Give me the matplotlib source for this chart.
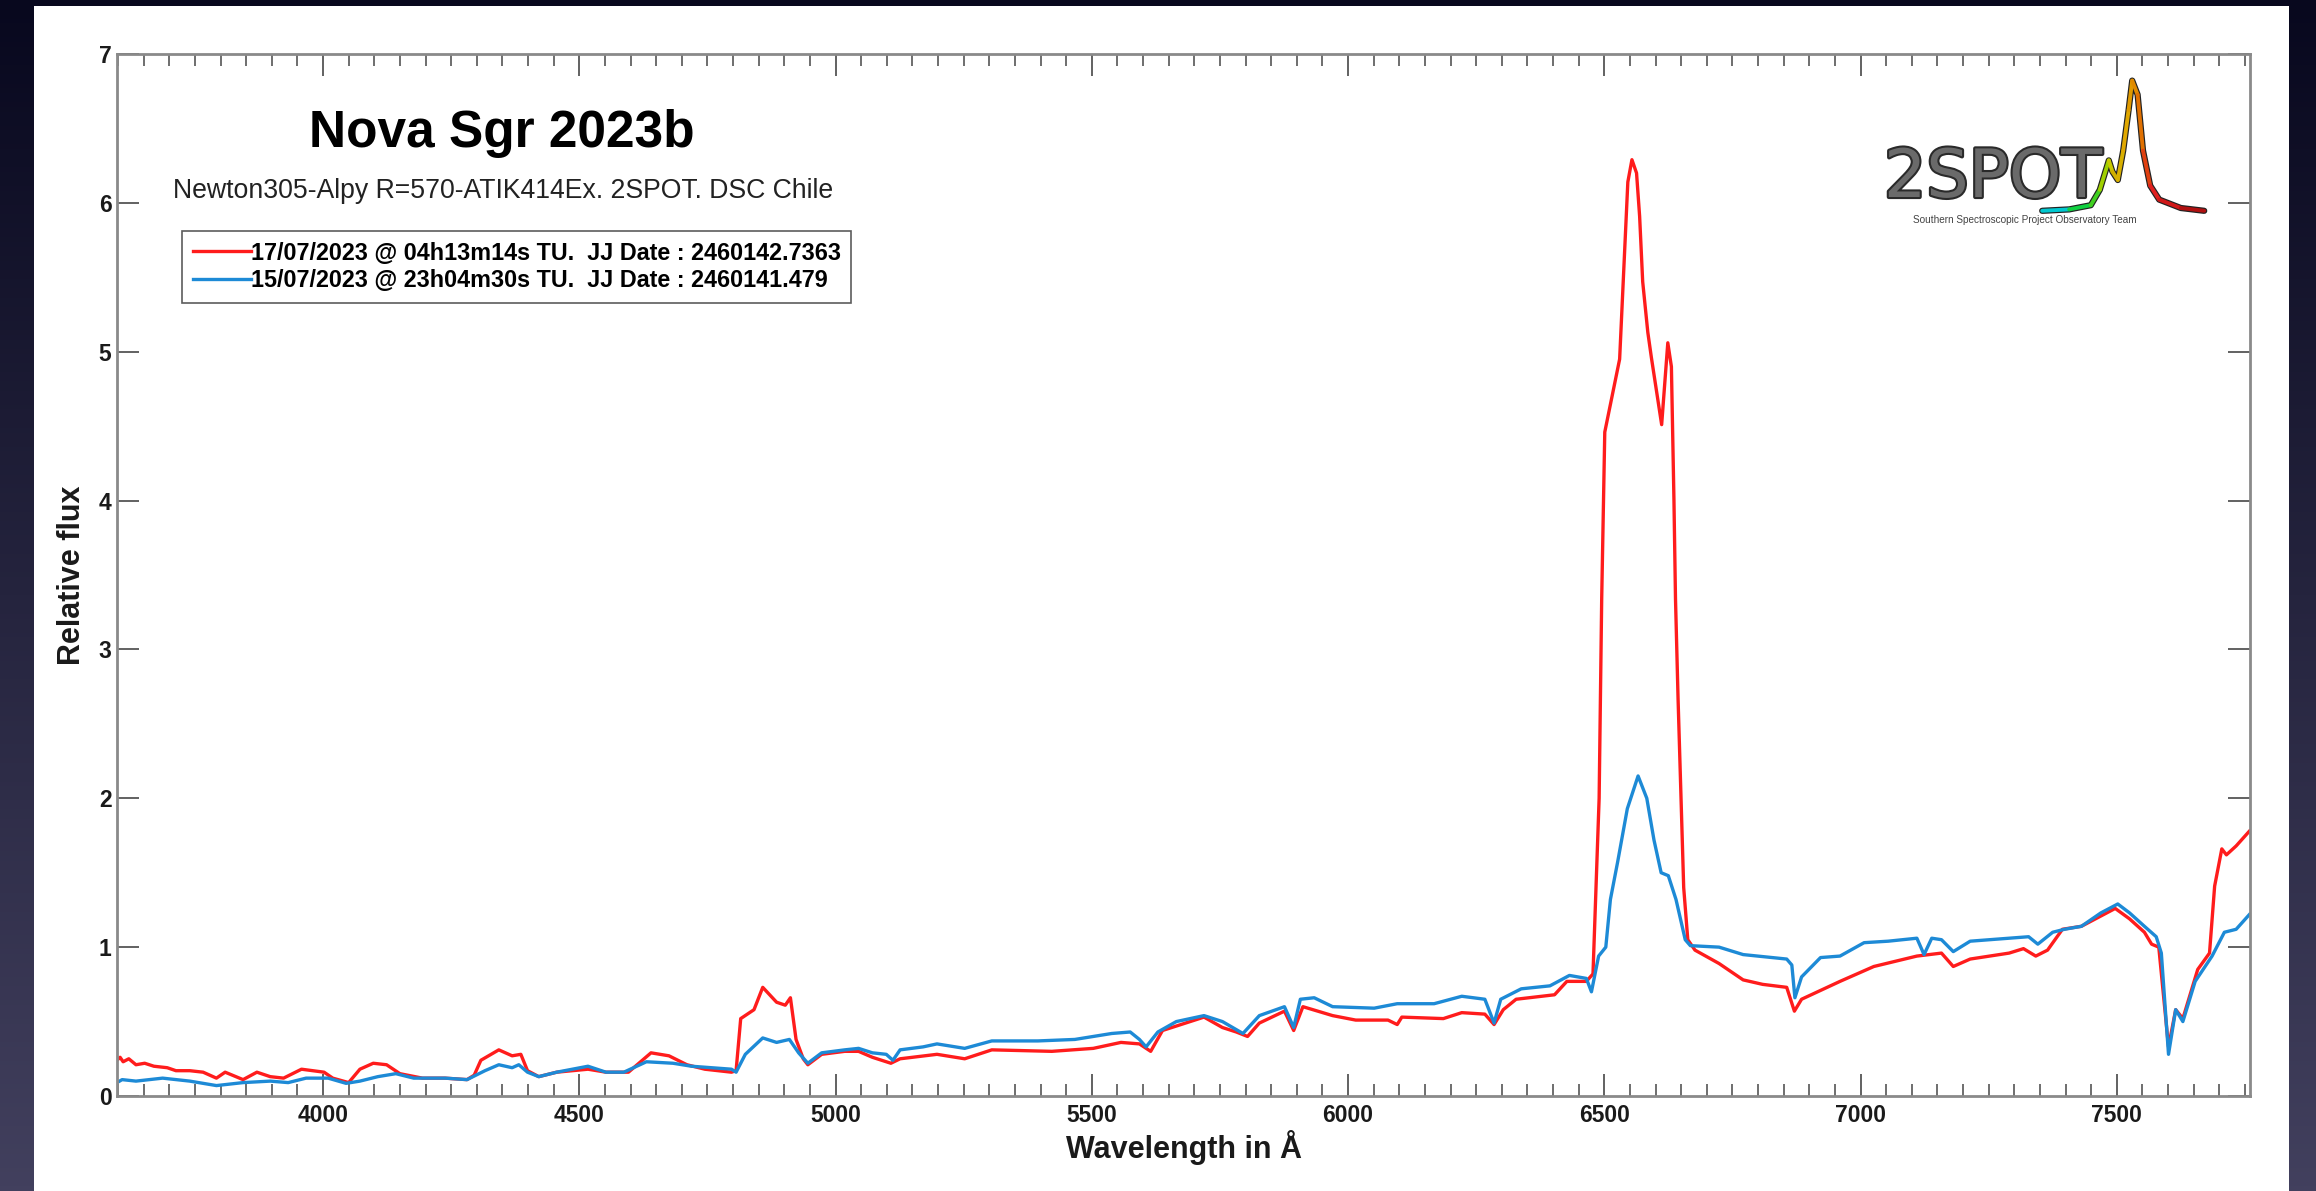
import numpy as np
import matplotlib
matplotlib.use("Agg")
import matplotlib.pyplot as plt
from matplotlib.patches import Rectangle
from matplotlib.collections import LineCollection
from matplotlib.ticker import MultipleLocator
import matplotlib.patheffects as pe

plt.rcParams["font.family"] = ["Liberation Sans", "DejaVu Sans"]
plt.rcParams["font.weight"] = "bold"
plt.rcParams["axes.labelweight"] = "bold"

# ---- data ----
wl_red = [3598, 3604, 3610, 3621, 3635, 3652, 3670, 3696, 3713, 3740, 3766, 3792, 3809,
          3844, 3871, 3897, 3923, 3958, 4002, 4019, 4050, 4072, 4098, 4124, 4150, 4194,
          4238, 4281, 4295, 4308, 4343, 4369, 4386, 4399, 4421, 4456, 4517, 4552, 4596,
          4640, 4675, 4710, 4745, 4797, 4806, 4815, 4841, 4858, 4885, 4902, 4912, 4923,
          4937, 4946, 4973, 5018, 5045, 5072, 5108, 5126, 5198, 5252, 5305, 5422, 5503,
          5557, 5593, 5615, 5638, 5692, 5719, 5755, 5782, 5804, 5827, 5876, 5894, 5912,
          5970, 6015, 6078, 6096, 6105, 6186, 6222, 6267, 6285, 6303, 6328, 6403, 6427,
          6465, 6478, 6490, 6495, 6501, 6511, 6530, 6540, 6546, 6554, 6563, 6569, 6575,
          6585, 6592, 6612, 6624, 6631, 6636, 6639, 6644, 6655, 6663, 6677, 6724, 6771,
          6809, 6856, 6871, 6885, 6960, 7026, 7110, 7158, 7181, 7214, 7290, 7318, 7342,
          7365, 7394, 7431, 7497, 7525, 7554, 7568, 7582, 7601, 7615, 7629, 7658, 7681,
          7691, 7705, 7714, 7733, 7759]
flux_red = [0.24, 0.26, 0.23, 0.25, 0.21, 0.22, 0.20, 0.19, 0.17, 0.17, 0.16, 0.12, 0.16,
            0.11, 0.16, 0.13, 0.12, 0.18, 0.16, 0.12, 0.09, 0.18, 0.22, 0.21, 0.15, 0.12,
            0.12, 0.11, 0.14, 0.24, 0.31, 0.27, 0.28, 0.17, 0.13, 0.16, 0.18, 0.16, 0.16,
            0.29, 0.27, 0.21, 0.18, 0.16, 0.17, 0.52, 0.58, 0.73, 0.63, 0.61, 0.66, 0.38,
            0.25, 0.21, 0.28, 0.30, 0.30, 0.26, 0.22, 0.25, 0.28, 0.25, 0.31, 0.30, 0.32,
            0.36, 0.35, 0.30, 0.44, 0.50, 0.53, 0.46, 0.43, 0.40, 0.49, 0.57, 0.44, 0.60,
            0.54, 0.51, 0.51, 0.48, 0.53, 0.52, 0.56, 0.55, 0.48, 0.58, 0.65, 0.68, 0.77,
            0.77, 0.82, 2.00, 3.34, 4.46, 4.63, 4.95, 5.69, 6.14, 6.29, 6.20, 5.91, 5.47,
            5.13, 4.96, 4.51, 5.06, 4.90, 4.00, 3.34, 2.67, 1.40, 1.05, 0.98, 0.89, 0.78,
            0.75, 0.73, 0.57, 0.65, 0.77, 0.87, 0.94, 0.96, 0.87, 0.92, 0.96, 0.99, 0.94,
            0.98, 1.12, 1.14, 1.26, 1.19, 1.10, 1.02, 1.00, 0.33, 0.58, 0.52, 0.85, 0.96,
            1.41, 1.66, 1.62, 1.68, 1.78]

wl_blue = [3598, 3608, 3635, 3687, 3740, 3792, 3844, 3897, 3932, 3967, 4010, 4045, 4072,
           4107, 4142, 4177, 4238, 4281, 4316, 4343, 4369, 4382, 4399, 4421, 4456, 4517,
           4552, 4587, 4631, 4683, 4719, 4797, 4806, 4824, 4858, 4885, 4910, 4928, 4946,
           4973, 5018, 5045, 5072, 5099, 5112, 5126, 5171, 5198, 5252, 5305, 5395, 5467,
           5539, 5575, 5593, 5606, 5629, 5665, 5719, 5755, 5795, 5827, 5876, 5894, 5907,
           5934, 5970, 6051, 6096, 6168, 6222, 6267, 6285, 6298, 6338, 6394, 6432, 6465,
           6475, 6489, 6503, 6512, 6526, 6545, 6566, 6583, 6597, 6611, 6625, 6640, 6658,
           6668, 6724, 6771, 6856, 6866, 6872, 6885, 6922, 6960, 7007, 7054, 7110, 7124,
           7139, 7158, 7181, 7214, 7290, 7328, 7346, 7375, 7398, 7431, 7469, 7502, 7525,
           7554, 7577, 7587, 7601, 7615, 7629, 7653, 7686, 7710, 7733, 7759]
flux_blue = [0.09, 0.11, 0.10, 0.12, 0.10, 0.07, 0.09, 0.10, 0.09, 0.12, 0.12, 0.085, 0.10,
             0.13, 0.15, 0.12, 0.12, 0.11, 0.17, 0.21, 0.19, 0.21, 0.16, 0.13, 0.16, 0.20,
             0.16, 0.16, 0.23, 0.22, 0.20, 0.18, 0.16, 0.28, 0.39, 0.36, 0.38, 0.29, 0.22,
             0.29, 0.31, 0.32, 0.29, 0.28, 0.24, 0.31, 0.33, 0.35, 0.32, 0.37, 0.37, 0.38,
             0.42, 0.43, 0.38, 0.33, 0.43, 0.50, 0.54, 0.50, 0.42, 0.54, 0.60, 0.46, 0.65,
             0.66, 0.60, 0.59, 0.62, 0.62, 0.67, 0.65, 0.49, 0.65, 0.72, 0.74, 0.81, 0.79,
             0.70, 0.94, 1.00, 1.32, 1.57, 1.93, 2.15, 2.00, 1.72, 1.50, 1.48, 1.32, 1.05,
             1.01, 1.00, 0.95, 0.92, 0.88, 0.66, 0.80, 0.93, 0.94, 1.03, 1.04, 1.06, 0.95,
             1.06, 1.05, 0.97, 1.04, 1.06, 1.07, 1.02, 1.10, 1.12, 1.14, 1.23, 1.29, 1.23,
             1.14, 1.07, 0.96, 0.28, 0.58, 0.50, 0.77, 0.94, 1.10, 1.12, 1.22]

label_red = "17/07/2023 @ 04h13m14s TU.  JJ Date : 2460142.7363"
label_blue = "15/07/2023 @ 23h04m30s TU.  JJ Date : 2460141.479"

# logo curve shape (2SPOT emblem), in its own unit box
logo_x = [0.04, 0.19, 0.31, 0.36, 0.41, 0.43, 0.46, 0.49, 0.52, 0.54, 0.57, 0.60, 0.64, 0.69, 0.81, 0.94]
logo_y = [0.03, 0.04, 0.07, 0.18, 0.39, 0.31, 0.25, 0.46, 0.75, 0.96, 0.86, 0.46, 0.21, 0.11, 0.05, 0.03]
logo_c = ["#00c8d0", "#10d040", "#40d020", "#a0d000", "#c8c800", "#d0b000", "#d8b000", "#e0a800",
          "#e09a00", "#e08a00", "#e07000", "#e04010", "#e02020", "#d01818", "#b01010"]

W, H = 2316, 1191
fig = plt.figure(figsize=(W / 100, H / 100), dpi=100)

# dark gradient backdrop + white panel
bg = fig.add_axes([0, 0, 1, 1], zorder=-10)
grad = np.linspace(0, 1, 256)[:, None]
top_c = np.array([8, 8, 30]) / 255
bot_c = np.array([66, 64, 94]) / 255
img = top_c + (bot_c - top_c) * grad          # (256, 3)
img = np.repeat(img[:, None, :], 2, axis=1)   # (256, 2, 3)
bg.imshow(img, aspect="auto", extent=[0, 1, 0, 1], origin="upper")
bg.set_axis_off()
fig.patches.append(Rectangle((34 / W, 0), (2289 - 34) / W, (H - 6) / H,
                             transform=fig.transFigure, facecolor="white",
                             edgecolor="none", zorder=-5))

ax = fig.add_axes([117 / W, 1 - 1096 / H, (2250 - 117) / W, (1096 - 54) / H])
ax.set_facecolor("white")
ax.plot(wl_red, flux_red, color="#ff1c1c", lw=2.4, label=label_red)
ax.plot(wl_blue, flux_blue, color="#1d8ad6", lw=2.4, label=label_blue)

ax.set_xlim(3598, 7760)
ax.set_ylim(0, 7)
ax.set_xticks(range(4000, 7501, 500))
ax.xaxis.set_minor_locator(MultipleLocator(50))
ax.set_yticks(range(0, 8))
ax.tick_params(which="major", direction="in", top=True, right=True, length=16,
               width=1.3, color="#555555", labelsize=16.5, labelcolor="#1a1a1a")
ax.tick_params(which="minor", direction="in", top=True, right=False, length=8.5,
               width=1.2, color="#555555")
ax.tick_params(axis="x", pad=6)
ax.tick_params(axis="y", pad=4)
for sp in ax.spines.values():
    sp.set_color("#8a8a8a")
    sp.set_linewidth(2)

ax.set_xlabel("Wavelength in Å", fontsize=22, color="#1a1a1a", labelpad=2)
ax.set_ylabel("Relative flux", fontsize=22, color="#1a1a1a", labelpad=8)

leg = ax.legend(loc="upper left", bbox_to_anchor=(0.0305, 0.83), fontsize=16.8,
                frameon=True, fancybox=False, handlelength=2.5, handletextpad=0.0,
                labelspacing=0.2, borderpad=0.45, borderaxespad=0)
leg.get_frame().set_edgecolor("#333333")
leg.get_frame().set_linewidth(1.2)

# titles
fig.text(502 / W, 1 - 134 / H, "Nova Sgr 2023b", fontsize=37, ha="center", va="center",
         color="black")
fig.text(173 / W, 1 - 191 / H, "Newton305-Alpy R=570-ATIK414Ex. 2SPOT. DSC Chile",
         fontsize=19.2, fontweight="normal", ha="left", va="center", color="#222222")

# 2SPOT logo
fig.text(1993 / W, 1 - 197 / H, "2SPOT", family="DejaVu Sans", fontsize=48,
         fontweight="normal", ha="center", va="baseline", color="#6a6a6a",
         path_effects=[pe.withStroke(linewidth=3, foreground="#2a2a2a")])
fig.text(2025 / W, 1 - 220 / H, "Southern Spectroscopic Project Observatory Team",
         fontsize=7.2, fontweight="normal", ha="center", va="center", color="#444444")
lax = fig.add_axes([2035 / W, 1 - 215 / H, 180 / W, 140 / H])
lax.set_xlim(0, 1)
lax.set_ylim(0, 1)
lax.set_axis_off()
pts = np.column_stack([logo_x, logo_y])
segs = np.stack([pts[:-1], pts[1:]], axis=1)
lax.plot(logo_x, logo_y, color="#222222", lw=4.5, solid_capstyle="round")
lax.add_collection(LineCollection(segs, colors=logo_c, linewidths=2.8, capstyle="round"))

fig.savefig("out.png", dpi=100)
